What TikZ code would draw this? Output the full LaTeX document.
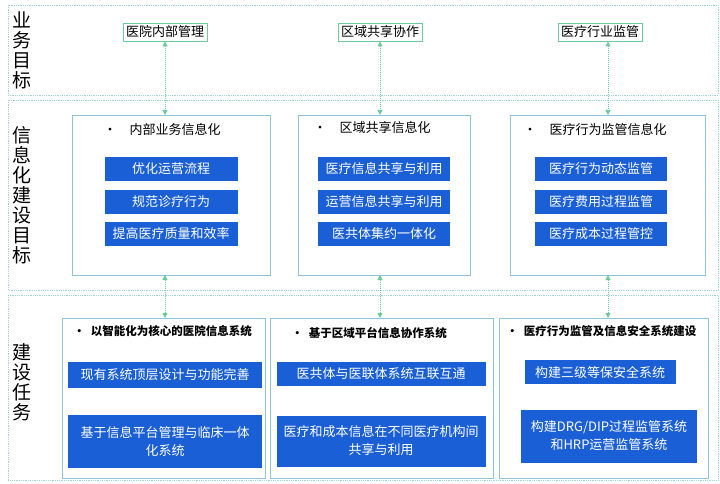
\documentclass[tikz,border=0pt]{standalone}
\usepackage{fontspec}
\setmainfont{Noto Sans CJK SC}
\usetikzlibrary{arrows.meta}
\definecolor{bandline}{HTML}{9FD3DC}
\definecolor{boxline}{HTML}{8CC4D8}
\definecolor{goalline}{HTML}{6CCB9A}
\definecolor{barblue}{HTML}{1A5FD6}
\tikzset{
  band/.style={draw=bandline, densely dotted, line width=0.8pt},
  panel/.style={draw=boxline, line width=0.9pt},
  goal/.style={draw=goalline, line width=0.9pt, fill=white, inner sep=3pt, font=\fontsize{13}{15}\selectfont},
  bar/.style={fill=barblue, text=white, font=\fontsize{13}{18}\selectfont, align=center},
  title/.style={font=\fontsize{13}{15}\selectfont, anchor=west},
  btitle/.style={font=\fontsize{11.5}{14}\selectfont\bfseries, anchor=west},
  side/.style={font=\fontsize{19}{20}\selectfont, align=center},
  link/.style={goalline, densely dotted, line width=1pt, {Triangle[length=5pt,width=5pt]}-{Triangle[length=5pt,width=5pt]}}
}
\begin{document}
\begin{tikzpicture}[x=1pt,y=-1pt]
\useasboundingbox (0,0) rectangle (720,484);
% bands
\draw[band] (8,5) rectangle (718,95);
\draw[band] (8,100) rectangle (718,290);
\draw[band] (8,295) rectangle (718,480);
\node[side] at (22,50) {业\\务\\目\\标};
\node[side] at (22,195) {信\\息\\化\\建\\设\\目\\标};
\node[side] at (22,382) {建\\设\\任\\务};
% goals
\node[goal] (g1) at (165,32) {医院内部管理};
\node[goal] (g2) at (380,32) {区域共享协作};
\node[goal] (g3) at (600,32) {医疗行业监管};
% middle panels
\draw[panel] (72,115) rectangle (270,275);
\draw[panel] (298,115) rectangle (470,275);
\draw[panel] (510,115) rectangle (705,275);
\coordinate (m1t) at (165,115); \coordinate (m1b) at (165,275);
\coordinate (m2t) at (380,115); \coordinate (m2b) at (380,275);
\coordinate (m3t) at (608,115); \coordinate (m3b) at (608,275);
\node[title] at (100,130) {•\quad 内部业务信息化};
\node[title] at (310,128) {•\quad 区域共享信息化};
\node[title] at (520,130) {•\quad 医疗行为监管信息化};
\node[bar, minimum width=133pt, minimum height=24pt] at (171,169) {优化运营流程};
\node[bar, minimum width=133pt, minimum height=24pt] at (171,202) {规范诊疗行为};
\node[bar, minimum width=133pt, minimum height=24pt] at (171,234) {提高医疗质量和效率};
\node[bar, minimum width=132pt, minimum height=24pt] at (384,169) {医疗信息共享与利用};
\node[bar, minimum width=132pt, minimum height=24pt] at (384,202) {运营信息共享与利用};
\node[bar, minimum width=132pt, minimum height=24pt] at (384,234) {医共体集约一体化};
\node[bar, minimum width=132pt, minimum height=24pt] at (601,169) {医疗行为动态监管};
\node[bar, minimum width=132pt, minimum height=24pt] at (601,202) {医疗费用过程监管};
\node[bar, minimum width=132pt, minimum height=24pt] at (601,234) {医疗成本过程管控};
% bottom panels
\draw[panel] (62,318) rectangle (265,478);
\draw[panel] (270,318) rectangle (493,478);
\draw[panel] (499,318) rectangle (708,478);
\coordinate (b1t) at (165,318);
\coordinate (b2t) at (380,318);
\coordinate (b3t) at (608,318);
\node[btitle] at (70,331) {•\enspace 以智能化为核心的医院信息系统};
\node[btitle] at (288,333) {•\enspace 基于区域平台信息协作系统};
\node[btitle] at (503,331) {•\enspace 医疗行为监管及信息安全系统建设};
\node[bar, minimum width=194pt, minimum height=26pt] at (165,375) {现有系统顶层设计与功能完善};
\node[bar, minimum width=194pt, minimum height=53pt] at (165,441) {基于信息平台管理与临床一体\\化系统};
\node[bar, minimum width=209pt, minimum height=24pt] at (381,374) {医共体与医联体系统互联互通};
\node[bar, minimum width=209pt, minimum height=51pt] at (381,441) {医疗和成本信息在不同医疗机构间\\共享与利用};
\node[bar, minimum width=151pt, minimum height=24pt] at (600,372) {构建三级等保安全系统};
\node[bar, minimum width=176pt, minimum height=53pt] at (609,436) {构建DRG/DIP过程监管系统\\和HRP运营监管系统};
% links
\draw[link] (g1) -- (m1t);
\draw[link] (g2) -- (m2t);
\draw[link] (g3.south -| m3t) -- (m3t);
\draw[link] (m1b) -- (b1t);
\draw[link] (m2b) -- (b2t);
\draw[link] (m3b) -- (b3t);
\end{tikzpicture}
\end{document}
